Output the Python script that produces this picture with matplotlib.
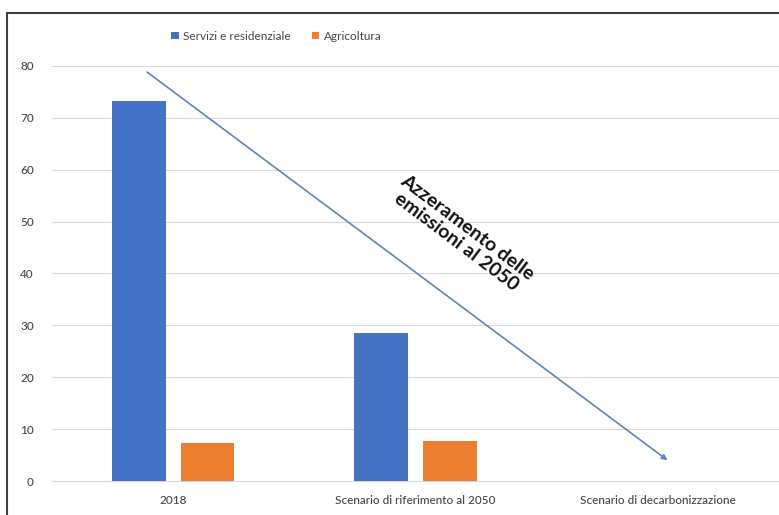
import matplotlib
matplotlib.use("Agg")
import matplotlib.pyplot as plt
from matplotlib.patches import Rectangle
import numpy as np

categories = ["2018", "Scenario di riferimento al 2050", "Scenario di decarbonizzazione"]
servizi = [73.3, 28.6, 0]
agricoltura = [7.4, 7.8, 0]
series_names = ["Servizi e residenziale", "Agricoltura"]
yticks = [0, 10, 20, 30, 40, 50, 60, 70, 80]

plt.rcParams['font.family'] = ['Lato', 'DejaVu Sans']

fig = plt.figure(figsize=(7.79, 5.15), dpi=100)
ax = fig.add_axes([0.0667, 0.066, 0.9333, 0.806])

x = np.arange(len(categories))
w = 0.222
gap = 0.062
blue = "#4472C4"
orange = "#ED7D31"
ax.bar(x - (w + gap) / 2, servizi, width=w, color=blue, label=series_names[0], zorder=3)
ax.bar(x + (w + gap) / 2, agricoltura, width=w, color=orange, label=series_names[1], zorder=3)

ax.set_xlim(-0.5, 2.5)
ax.set_ylim(0, 80)
ax.set_yticks(yticks)
ax.set_xticks(x)
ax.set_xticklabels(categories)
ax.tick_params(axis='both', length=0, labelsize=8.5, colors="#474747")
ax.tick_params(axis='y', pad=13)
ax.tick_params(axis='x', pad=10)
for lbl in ax.get_xticklabels() + ax.get_yticklabels():
    lbl.set_fontweight("medium")
ax.yaxis.grid(True, color="#D9D9D9", linewidth=0.8, zorder=0)
for s in ax.spines.values():
    s.set_visible(False)
ax.spines['bottom'].set_visible(True)
ax.spines['bottom'].set_color("#D9D9D9")

# arrow
ax.annotate("", xy=(2.04, 4.0), xytext=(-0.107, 78.8),
            arrowprops=dict(arrowstyle="-|>", color="#6283BC", lw=1.2,
                            mutation_scale=8, shrinkA=0, shrinkB=0), zorder=4)
ax.text(1.19, 47.5, "Azzeramento delle\nemissioni al 2050", rotation=-37,
        ha="center", va="center", fontsize=14, fontweight="bold",
        rotation_mode="anchor", color="#111111", linespacing=1.05)

leg = fig.legend(loc="center", bbox_to_anchor=(0.355, 0.930), ncol=2, frameon=False,
                 fontsize=8.5, handlelength=0.6, handleheight=0.6, handletextpad=0.4,
                 columnspacing=1.8)
for t in leg.get_texts():
    t.set_color("#474747")

# outer border
fig.patches.append(Rectangle((7 / 779, -0.05), 1.1, 1 - 13 / 515 + 0.05,
                             transform=fig.transFigure, fill=False,
                             edgecolor="#404040", linewidth=1.5, zorder=10))

fig.savefig("out.png", dpi=100)
